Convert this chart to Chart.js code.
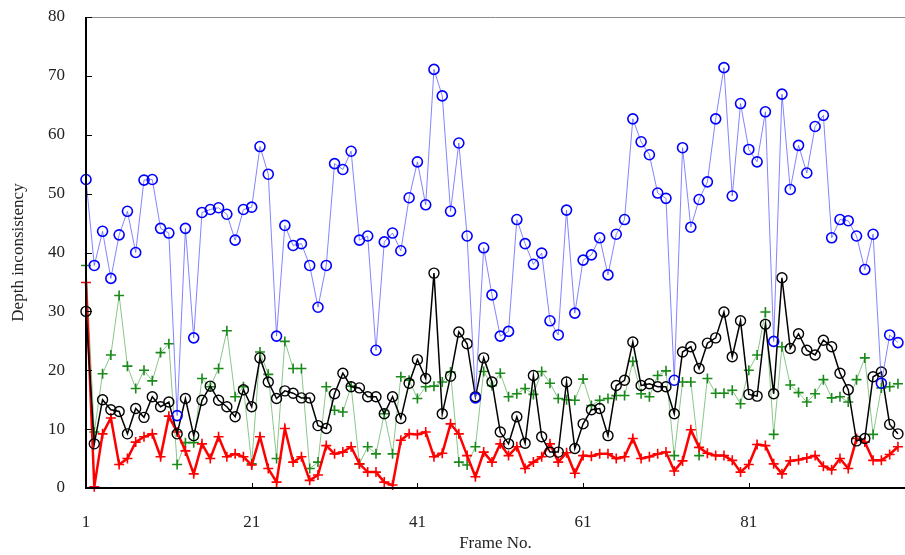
<!DOCTYPE html>
<html>
<head>
<meta charset="utf-8">
<script src="https://cdn.jsdelivr.net/npm/chart.js@4.4.0/dist/chart.umd.min.js"></script>
<style>
  html, body { margin: 0; padding: 0; background: #fff; overflow: hidden; }
</style>
</head>
<body>
<canvas id="chart" width="905" height="555"></canvas>
<script>
// values read per frame (frame No. = index + 1)
var blueVals = [52.4, 37.8, 43.6, 35.6, 43.0, 47.0, 40.0, 52.3, 52.4, 44.1,
                43.3, 12.3, 44.1, 25.5, 46.8, 47.3, 47.6, 46.5, 42.1, 47.3,
                47.7, 58.0, 53.3, 25.8, 44.6, 41.2, 41.5, 37.8, 30.7, 37.8,
                55.1, 54.1, 57.2, 42.1, 42.8, 23.4, 41.8, 43.3, 40.3, 49.3,
                55.4, 48.1, 71.1, 66.6, 47.0, 58.6, 42.8, 15.3, 40.8, 32.8,
                25.8, 26.6, 45.6, 41.5, 38.0, 39.9, 28.4, 26.0, 47.2, 29.7,
                38.7, 39.6, 42.5, 36.2, 43.1, 45.6, 62.7, 58.8, 56.6, 50.1,
                49.2, 18.3, 57.8, 44.3, 49.0, 52.0, 62.7, 71.4, 49.6, 65.3,
                57.5, 55.4, 63.9, 24.9, 66.9, 50.7, 58.2, 53.5, 61.4, 63.3,
                42.5, 45.6, 45.4, 42.8, 37.1, 43.1, 17.8, 26.0, 24.7];

var blackVals = [30.0, 7.5, 15.0, 13.3, 13.0, 9.2, 13.5, 12.0, 15.5, 13.8,
                 14.6, 9.2, 15.2, 8.9, 14.9, 17.3, 14.9, 13.8, 12.1, 16.7,
                 13.8, 22.1, 18.0, 15.2, 16.5, 16.1, 15.3, 15.3, 10.6, 10.1,
                 16.0, 19.5, 17.2, 17.0, 15.5, 15.5, 12.6, 15.5, 11.8, 17.8,
                 21.8, 18.6, 36.5, 12.6, 19.0, 26.5, 24.5, 15.5, 22.1, 18.0,
                 9.5, 7.5, 12.1, 7.6, 19.1, 8.7, 6.1, 6.1, 18.0, 6.7,
                 10.9, 13.3, 13.5, 8.9, 17.4, 18.3, 24.8, 17.4, 17.7, 17.2,
                 17.2, 12.6, 23.1, 24.0, 20.3, 24.6, 25.5, 29.9, 22.3, 28.4,
                 15.9, 15.6, 27.8, 16.0, 35.7, 23.7, 26.2, 23.4, 22.6, 25.1,
                 24.0, 19.5, 16.7, 8.0, 8.4, 18.9, 19.7, 10.8, 9.2];

var redVals = [34.9, 0.2, 9.2, 11.9, 4.0, 5.0, 7.8, 8.7, 9.2, 5.3,
               12.2, 9.5, 6.3, 2.4, 7.5, 5.0, 8.7, 5.3, 5.8, 5.3,
               3.9, 8.7, 3.3, 1.0, 10.1, 4.4, 5.3, 1.3, 2.2, 7.2,
               5.8, 6.1, 7.0, 4.1, 2.7, 2.7, 1.0, 0.5, 8.1, 9.2,
               9.1, 9.5, 5.3, 5.9, 10.9, 9.2, 5.5, 1.9, 6.1, 4.4,
               7.5, 5.5, 7.0, 3.3, 4.4, 5.3, 7.5, 4.4, 6.0, 2.5,
               5.5, 5.4, 5.8, 5.8, 5.0, 5.3, 8.4, 5.0, 5.3, 5.8,
               6.1, 2.9, 4.6, 9.9, 6.9, 5.9, 5.5, 5.5, 4.7, 2.7,
               4.0, 7.4, 7.2, 4.1, 2.4, 4.6, 4.8, 5.1, 5.5, 3.7,
               3.1, 5.0, 3.3, 8.4, 7.8, 4.7, 4.7, 5.7, 7.0];

var greenVals = [37.8, 9.5, 19.4, 22.6, 32.7, 20.7, 16.9, 20.0, 18.2, 23.0,
                 24.5, 4.0, 7.7, 7.7, 18.6, 17.2, 20.3, 26.7, 15.5, 17.2,
                 4.1, 23.1, 19.3, 5.0, 24.9, 20.3, 20.3, 3.3, 4.4, 17.2,
                 13.2, 12.9, 17.3, 4.1, 7.0, 5.8, 12.6, 5.8, 18.9, 18.3,
                 15.2, 17.2, 17.3, 18.0, 19.7, 4.4, 3.9, 7.0, 19.8, 17.4,
                 19.5, 15.5, 16.0, 16.9, 15.9, 19.8, 17.8, 15.2, 15.0, 14.9,
                 18.5, 14.0, 14.9, 15.2, 15.7, 15.7, 21.5, 16.0, 15.5, 19.1,
                 19.9, 5.5, 18.0, 18.0, 5.5, 18.6, 16.1, 16.1, 16.6, 14.3,
                 20.0, 22.6, 29.9, 9.1, 24.0, 17.5, 16.2, 14.6, 16.0, 18.4,
                 15.3, 15.5, 14.6, 18.4, 22.1, 9.1, 17.0, 17.2, 17.7];

var xTicks = [1, 21, 41, 61, 81];
var yTicks = [0, 10, 20, 30, 40, 50, 60, 70, 80];

var serif = "'Liberation Serif', 'DejaVu Serif', serif";

function toPoints(vals){
    return vals.map(function(v, i){ return {x: i + 1, y: v}; });
}

// axes: thick left/bottom, thin grey top, tick marks pointing inward
var frameAxes = {
    id: 'frameAxes',
    afterDatasetsDraw: function(chart){
        var ctx = chart.ctx;
        var a = chart.chartArea;
        var xs = chart.scales.x, ys = chart.scales.y;
        ctx.save();
        ctx.strokeStyle = '#8c8c8c';
        ctx.lineWidth = 1;
        ctx.beginPath();
        ctx.moveTo(a.left, a.top + 0.5);
        ctx.lineTo(a.right, a.top + 0.5);
        ctx.stroke();

        ctx.strokeStyle = '#000';
        ctx.lineWidth = 2;
        ctx.beginPath();
        ctx.moveTo(a.left, a.top);
        ctx.lineTo(a.left, a.bottom);
        ctx.lineTo(a.right, a.bottom);
        ctx.stroke();

        ctx.lineWidth = 1;
        ctx.beginPath();
        yTicks.forEach(function(v){
            var py = Math.round(ys.getPixelForValue(v)) + 0.5;
            ctx.moveTo(a.left, py);
            ctx.lineTo(a.left + 6, py);
        });
        xTicks.forEach(function(v){
            var px = Math.round(xs.getPixelForValue(v)) + 0.5;
            ctx.moveTo(px, a.bottom);
            ctx.lineTo(px, a.bottom - 5);
        });
        ctx.stroke();
        ctx.restore();
    }
};

var ctx = document.getElementById('chart');
var chart = new Chart(ctx, {
    type: 'line',
    data: {
        datasets: [
            {
                label: 'blue',
                data: toPoints(blueVals),
                borderColor: 'rgba(80,80,255,0.7)',
                borderWidth: 1,
                pointStyle: 'circle',
                pointRadius: 5,
                pointBorderWidth: 1.6,
                pointBorderColor: '#0000ff',
                pointBackgroundColor: 'rgba(0,0,0,0)',
                clip: false
            },
            {
                label: 'black',
                data: toPoints(blackVals),
                borderColor: '#000',
                borderWidth: 1.5,
                pointStyle: 'circle',
                pointRadius: 5,
                pointBorderWidth: 1.4,
                pointBorderColor: '#000',
                pointBackgroundColor: 'rgba(0,0,0,0)',
                clip: false
            },
            {
                label: 'red',
                data: toPoints(redVals),
                borderColor: '#ff0000',
                borderWidth: 2.5,
                pointStyle: 'cross',
                pointRadius: 5,
                pointBorderWidth: 1.6,
                pointBorderColor: '#ff0000',
                clip: false
            },
            {
                label: 'green',
                data: toPoints(greenVals),
                borderColor: 'rgba(60,160,60,0.6)',
                borderWidth: 1,
                pointStyle: 'cross',
                pointRadius: 5,
                pointBorderWidth: 1.6,
                pointBorderColor: '#1a8a1a',
                clip: false
            }
        ]
    },
    options: {
        responsive: false,
        animation: false,
        layout: { autoPadding: false, padding: { top: 17, right: 0, bottom: 0, left: 0 } },
        plugins: {
            legend: { display: false },
            tooltip: { enabled: false }
        },
        elements: { line: { tension: 0 } },
        scales: {
            x: {
                type: 'linear',
                min: 1,
                max: 99.85,
                afterBuildTicks: function(s){
                    s.ticks = xTicks.map(function(v){ return {value: v}; });
                },
                afterFit: function(s){
                    s.height = 67;
                    s.paddingLeft = 0;
                    s.paddingRight = 0;
                },
                grid: { display: false, drawTicks: false },
                border: { display: false },
                ticks: {
                    color: '#222',
                    font: { family: serif, size: 17 },
                    padding: 24,
                    maxRotation: 0,
                    autoSkip: false
                },
                title: {
                    display: true,
                    text: 'Frame No.',
                    color: '#222',
                    font: { family: serif, size: 17 },
                    padding: { top: 0, bottom: 1 }
                }
            },
            y: {
                min: 0,
                max: 80,
                afterBuildTicks: function(s){
                    s.ticks = yTicks.map(function(v){ return {value: v}; });
                },
                afterFit: function(s){
                    s.width = 86;
                    s.paddingTop = 0;
                    s.paddingBottom = 0;
                },
                grid: { display: false, drawTicks: false },
                border: { display: false },
                ticks: {
                    color: '#222',
                    font: { family: serif, size: 17 },
                    padding: 21
                },
                title: {
                    display: true,
                    text: 'Depth inconsistency',
                    color: '#222',
                    font: { family: serif, size: 17 },
                    padding: { top: 8, bottom: 0 }
                }
            }
        }
    },
    plugins: [frameAxes]
});
</script>
</body>
</html>
